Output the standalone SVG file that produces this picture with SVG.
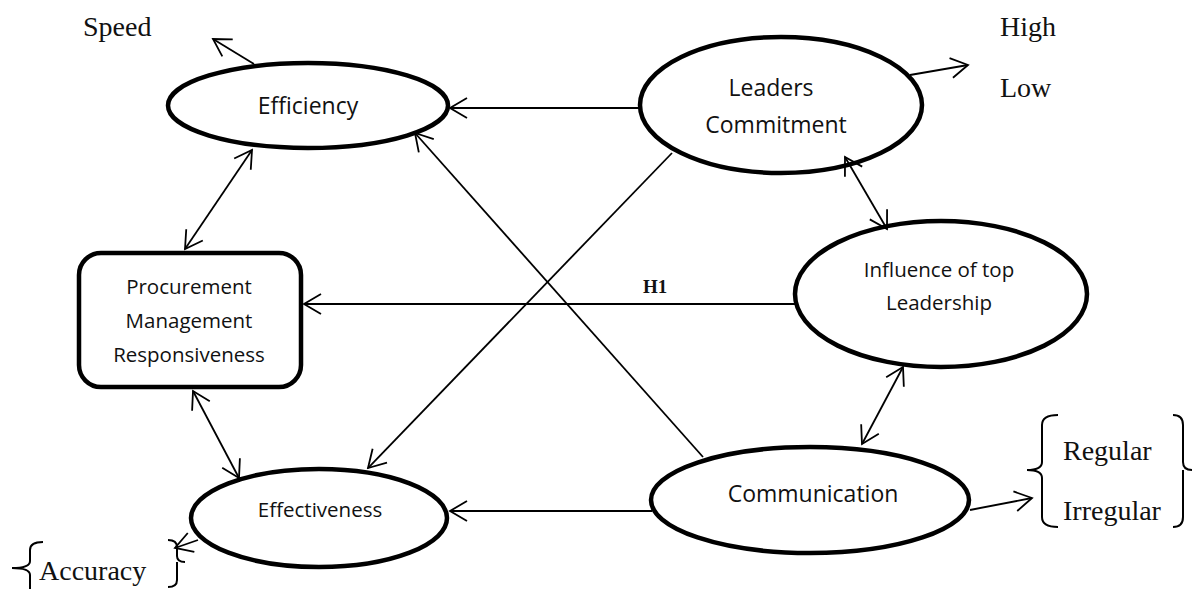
<svg xmlns="http://www.w3.org/2000/svg" width="1192" height="589" viewBox="0 0 1192 589">
<style>
.shape{fill:#fff;stroke:#000;stroke-width:4.5}
.conn{fill:none;stroke:#000;stroke-width:1.8}
.br{fill:none;stroke:#000;stroke-width:2}
.lbl{font-family:"Open Sans","Noto Sans",sans-serif;font-size:20.5px;text-anchor:middle;fill:#111}
.big{font-size:23px}
.ser{font-family:"Liberation Serif","Times New Roman",serif;font-size:28px;fill:#111}
.h1{font-family:"Liberation Serif","Times New Roman",serif;font-size:19px;font-weight:bold;fill:#111}
</style>
<defs>
<marker id="ah" viewBox="-19 -12 21 24" refX="0" refY="0" markerWidth="21" markerHeight="24" markerUnits="userSpaceOnUse" orient="auto-start-reverse">
<path d="M-17,-10 L0,0 L-17,10" fill="none" stroke="#000" stroke-width="1.8"/>
</marker>
</defs>
<rect width="1192" height="589" fill="#fff"/>

<g id="efficiency">
<ellipse class="shape" cx="308" cy="105.5" rx="140" ry="42.5"/>
<text class="lbl big" x="308" y="114">Efficiency</text>
</g>
<g id="leaders-commitment">
<ellipse class="shape" cx="781" cy="105" rx="141" ry="68"/>
<text class="lbl big" x="771" y="96">Leaders</text>
<text class="lbl big" x="776" y="133">Commitment</text>
</g>
<g id="procurement">
<rect class="shape" x="79" y="253" width="222" height="134" rx="22" ry="22" stroke-width="4"/>
<text class="lbl" x="189" y="294">Procurement</text>
<text class="lbl" x="189" y="328">Management</text>
<text class="lbl" x="189" y="362">Responsiveness</text>
</g>
<g id="influence">
<ellipse class="shape" cx="941" cy="294" rx="146" ry="73"/>
<text class="lbl" x="939" y="277">Influence of top</text>
<text class="lbl" x="939" y="310">Leadership</text>
</g>
<g id="communication">
<ellipse class="shape" cx="810" cy="500" rx="159" ry="53"/>
<text class="lbl big" x="813" y="502">Communication</text>
</g>
<g id="effectiveness">
<ellipse class="shape" cx="319" cy="518" rx="128" ry="49"/>
<text class="lbl" x="320" y="517">Effectiveness</text>
</g>

<g id="connectors">
<line class="conn" x1="254" y1="64" x2="213" y2="39" marker-end="url(#ah)"/>
<line class="conn" x1="910" y1="75" x2="968" y2="65" marker-end="url(#ah)"/>
<line class="conn" x1="640" y1="108" x2="450" y2="108" marker-end="url(#ah)"/>
<line class="conn" x1="703" y1="457" x2="415" y2="133" marker-end="url(#ah)"/>
<line class="conn" x1="672" y1="153" x2="368" y2="468" marker-end="url(#ah)"/>
<line class="conn" x1="795" y1="304" x2="304" y2="304" marker-end="url(#ah)"/>
<line class="conn" x1="652" y1="511" x2="450" y2="511" marker-end="url(#ah)"/>
<line class="conn" x1="252" y1="150" x2="185" y2="249" marker-start="url(#ah)" marker-end="url(#ah)"/>
<line class="conn" x1="193" y1="391" x2="239" y2="478" marker-start="url(#ah)" marker-end="url(#ah)"/>
<line class="conn" x1="845" y1="157" x2="887" y2="229" marker-start="url(#ah)" marker-end="url(#ah)"/>
<line class="conn" x1="903" y1="367" x2="862" y2="444" marker-start="url(#ah)" marker-end="url(#ah)"/>
<line class="conn" x1="970" y1="510" x2="1032" y2="498" marker-end="url(#ah)"/>
<line class="conn" x1="198" y1="540" x2="175" y2="548" marker-end="url(#ah)"/>
<text class="h1" x="643" y="293">H1</text>
</g>

<g id="annotations">
<text class="ser" x="83" y="36">Speed</text>
<text class="ser" x="1000" y="36">High</text>
<text class="ser" x="1000" y="97">Low</text>
<text class="ser" x="1063" y="460">Regular</text>
<text class="ser" x="1063" y="520">Irregular</text>
<path class="br" d="M1058,415 Q1042,415 1042,425 L1042,462 Q1042,470 1027,470 Q1042,470 1042,478 L1042,517 Q1042,527 1058,527"/>
<path class="br" d="M1173,415 Q1183,415 1183,425 L1183,462 Q1183,470 1192,470 M1183,470 L1183,517 Q1183,527 1173,527"/>
<text class="ser" x="39" y="580">Accuracy</text>
<path class="br" d="M43,542 Q30,542 30,550 L30,561 Q30,568 12,568 Q30,568 30,575 L30,595"/>
<path class="br" d="M168,540 Q177,540 177,547 L177,556 Q177,562 185,562 M177,562 L177,580 Q177,587 168,587"/>
</g>
</svg>
